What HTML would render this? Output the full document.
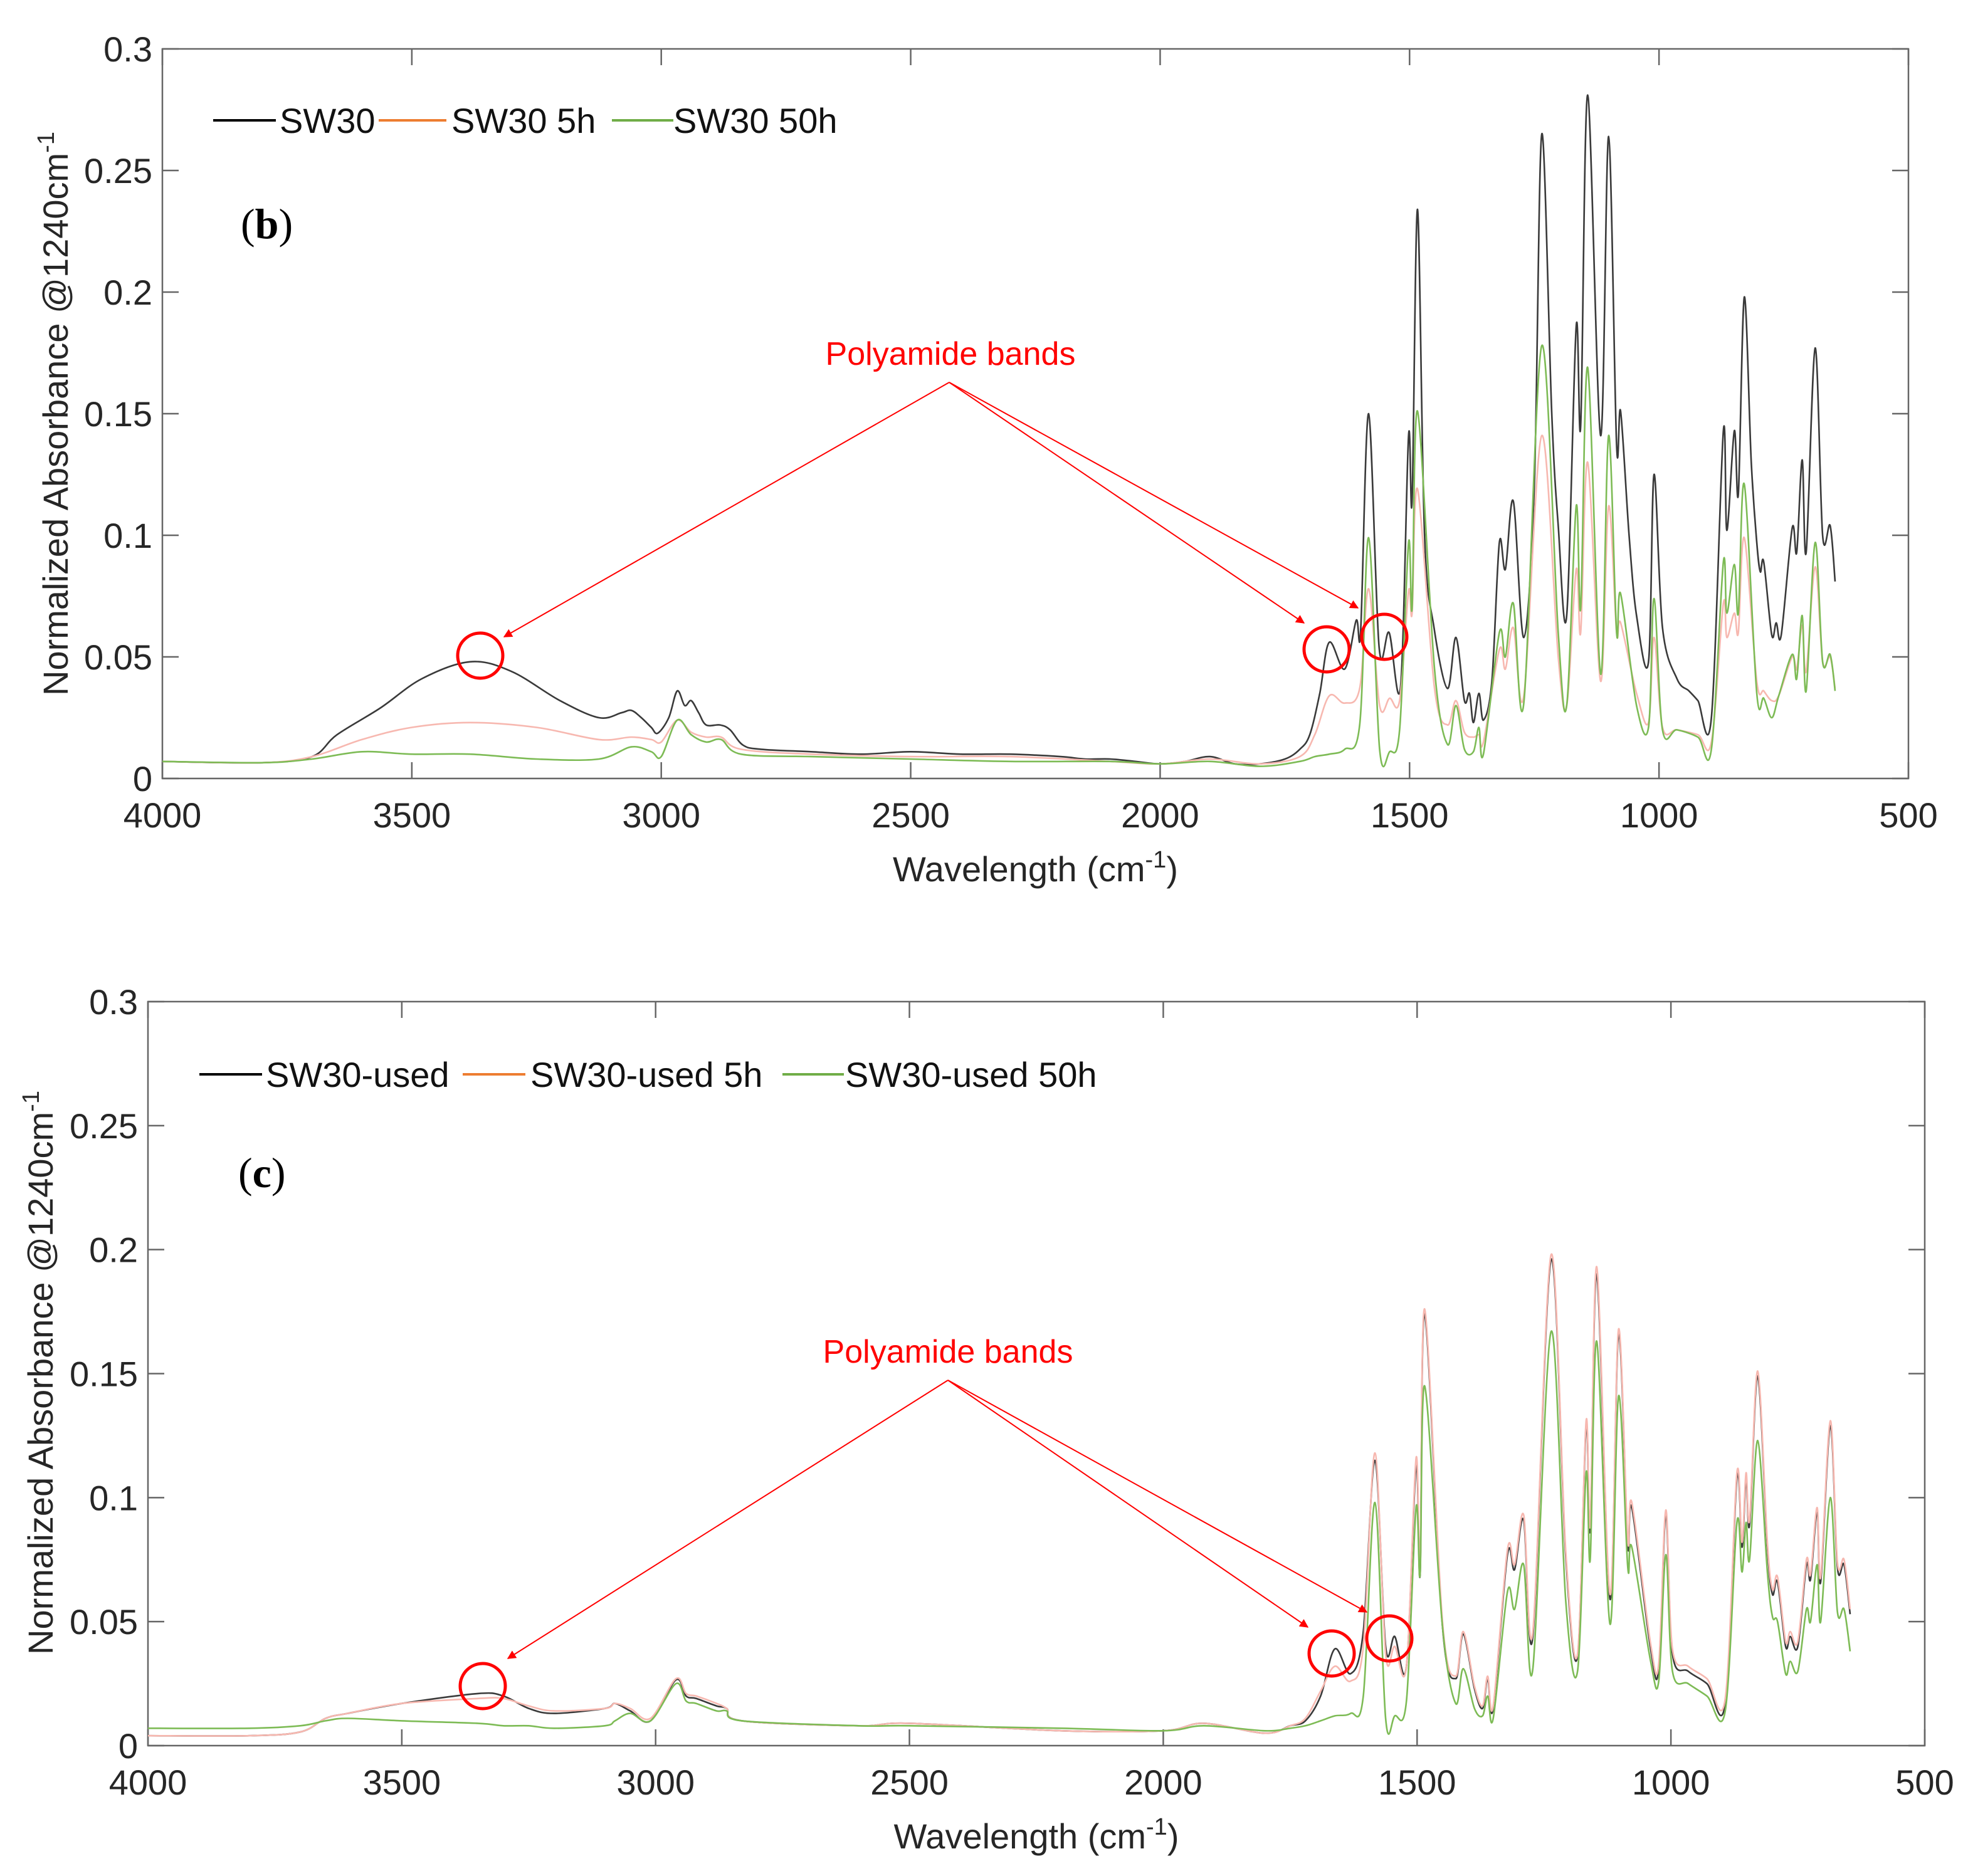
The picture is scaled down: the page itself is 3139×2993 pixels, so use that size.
<!DOCTYPE html>
<html><head><meta charset="utf-8"><style>
html,body{margin:0;padding:0;background:#fff;}
svg{display:block;font-family:"Liberation Sans",sans-serif;}
</style></head><body>
<svg id="fig" width="3139" height="2993" viewBox="0 0 3139 2993" xmlns="http://www.w3.org/2000/svg">
<defs><marker id="ah" viewBox="0 0 10 10" refX="9" refY="5" markerWidth="7" markerHeight="7" orient="auto"><path d="M0,0 L10,5 L0,10 z" fill="#f00"/></marker></defs>
</svg>
<script>
// ---- Panel (b) data ----
const wnB1 = [4000,3800,3700,3650,3563,3480,3383,3300,3203,3125,3080,3060,3040,3020,3007,2985,2968,2953,2940,2925,2910,2882,2862,2836,2800,2700,2600,2500,2400,2300,2200,2150,2100,2050,2000,1950,1900,1850,1800,1750,1720,1700,1680,1661,1630,1607,1598,1582,1561,1541,1518,1502,1495,1484,1470,1451,1424,1407,1390,1380,1372,1361,1352,1335,1320,1308,1292,1271,1250,1235,1215,1202,1185,1166,1157,1143,1117,1101,1085,1077,1060,1045,1021,1010,993,964,940,922,895,871,864,849,841,829,815,804,797,790,774,765,755,733,724,713,705,687,672,657,647];
const sw30 = [0.007,0.0065,0.009,0.018,0.029,0.041,0.048,0.044,0.032,0.025,0.027,0.028,0.025,0.021,0.0186,0.025,0.036,0.030,0.032,0.027,0.022,0.022,0.020,0.0137,0.012,0.011,0.010,0.011,0.010,0.010,0.009,0.008,0.008,0.007,0.006,0.007,0.009,0.006,0.006,0.008,0.012,0.018,0.035,0.056,0.045,0.065,0.061,0.150,0.054,0.060,0.038,0.141,0.114,0.234,0.100,0.062,0.037,0.058,0.032,0.035,0.023,0.035,0.024,0.040,0.097,0.086,0.114,0.058,0.120,0.265,0.150,0.104,0.067,0.186,0.145,0.281,0.141,0.264,0.137,0.151,0.100,0.067,0.048,0.125,0.062,0.041,0.036,0.032,0.025,0.143,0.102,0.143,0.117,0.198,0.130,0.097,0.085,0.089,0.059,0.064,0.059,0.103,0.093,0.131,0.093,0.177,0.100,0.104,0.081];
const wnB2 = [4000,3800,3700,3600,3500,3383,3250,3125,3060,3020,3000,2968,2940,2910,2880,2840,2700,2500,2300,2100,2000,1900,1800,1720,1690,1661,1630,1600,1582,1560,1540,1520,1502,1495,1484,1450,1424,1407,1390,1372,1361,1352,1320,1308,1292,1271,1235,1202,1185,1166,1157,1143,1117,1101,1085,1077,1045,1021,1010,993,964,922,895,871,864,849,841,829,804,790,774,760,733,724,713,705,687,672,657,647];
const sw30_5h = [0.007,0.0065,0.009,0.016,0.021,0.023,0.021,0.016,0.017,0.016,0.015,0.024,0.019,0.017,0.017,0.012,0.010,0.009,0.009,0.007,0.006,0.008,0.006,0.009,0.018,0.034,0.031,0.037,0.078,0.030,0.033,0.032,0.077,0.068,0.119,0.037,0.022,0.032,0.019,0.017,0.018,0.015,0.053,0.045,0.062,0.034,0.141,0.050,0.030,0.086,0.060,0.130,0.040,0.112,0.060,0.064,0.035,0.023,0.058,0.021,0.020,0.018,0.015,0.072,0.058,0.068,0.060,0.099,0.040,0.036,0.032,0.034,0.050,0.045,0.063,0.044,0.087,0.048,0.050,0.037];
const sw30_50h = [0.007,0.0065,0.008,0.011,0.010,0.010,0.008,0.008,0.013,0.011,0.009,0.024,0.018,0.015,0.016,0.010,0.009,0.008,0.007,0.007,0.006,0.007,0.005,0.007,0.009,0.010,0.012,0.022,0.099,0.012,0.011,0.020,0.097,0.070,0.151,0.045,0.014,0.030,0.012,0.011,0.021,0.010,0.060,0.050,0.072,0.031,0.178,0.060,0.030,0.112,0.070,0.169,0.043,0.141,0.060,0.076,0.030,0.021,0.074,0.020,0.020,0.017,0.012,0.089,0.068,0.088,0.068,0.121,0.035,0.033,0.025,0.034,0.051,0.041,0.067,0.036,0.097,0.048,0.051,0.036];
// ---- Panel (c) data ----
const wnC = [4000,3800,3700,3650,3607,3500,3350,3300,3250,3200,3100,3080,3050,3010,2960,2940,2920,2880,2860,2830,2600,2500,2200,2000,1920,1800,1750,1720,1690,1662,1631,1606,1583,1562,1544,1521,1502,1494,1485,1450,1424,1409,1387,1371,1361,1350,1322,1308,1290,1272,1236,1207,1184,1167,1159,1146,1120,1103,1085,1077,1040,1024,1010,997,966,929,893,870,860,852,845,829,810,800,790,774,765,750,733,725,712,705,686,672,659,647];
const used = [0.004,0.004,0.0055,0.011,0.013,0.017,0.021,0.020,0.015,0.013,0.015,0.017,0.014,0.010,0.0265,0.020,0.019,0.016,0.015,0.010,0.008,0.009,0.006,0.006,0.009,0.005,0.008,0.010,0.020,0.039,0.029,0.046,0.115,0.040,0.044,0.032,0.113,0.069,0.174,0.048,0.027,0.045,0.023,0.015,0.027,0.015,0.077,0.071,0.091,0.044,0.196,0.076,0.036,0.129,0.087,0.190,0.059,0.166,0.081,0.096,0.039,0.031,0.093,0.037,0.030,0.025,0.017,0.108,0.080,0.108,0.089,0.149,0.080,0.061,0.066,0.040,0.044,0.040,0.073,0.067,0.094,0.066,0.129,0.072,0.073,0.053];
const used_5h = [0.004,0.004,0.0055,0.011,0.013,0.017,0.019,0.019,0.016,0.014,0.015,0.017,0.015,0.011,0.027,0.021,0.020,0.017,0.015,0.010,0.008,0.009,0.006,0.006,0.009,0.005,0.008,0.011,0.022,0.032,0.026,0.040,0.118,0.037,0.040,0.032,0.116,0.072,0.176,0.050,0.028,0.046,0.024,0.016,0.028,0.016,0.079,0.073,0.093,0.046,0.198,0.078,0.037,0.131,0.089,0.193,0.061,0.168,0.083,0.098,0.041,0.033,0.095,0.039,0.032,0.027,0.019,0.110,0.082,0.110,0.091,0.151,0.082,0.063,0.068,0.042,0.046,0.042,0.075,0.069,0.096,0.068,0.131,0.074,0.075,0.055];
const used_50h = [0.007,0.007,0.008,0.010,0.011,0.010,0.009,0.008,0.008,0.007,0.008,0.010,0.013,0.010,0.025,0.018,0.017,0.014,0.014,0.010,0.008,0.008,0.007,0.006,0.008,0.006,0.007,0.008,0.010,0.012,0.013,0.020,0.098,0.011,0.012,0.018,0.096,0.069,0.145,0.048,0.017,0.031,0.015,0.012,0.020,0.011,0.062,0.055,0.073,0.031,0.167,0.058,0.030,0.110,0.075,0.163,0.049,0.141,0.072,0.080,0.034,0.026,0.077,0.030,0.025,0.020,0.014,0.090,0.070,0.090,0.075,0.123,0.070,0.052,0.050,0.029,0.034,0.030,0.055,0.050,0.073,0.050,0.100,0.054,0.055,0.038];
const xTicks = [4000,3500,3000,2500,2000,1500,1000,500];
const yTicks = [0,0.05,0.1,0.15,0.2,0.25,0.3];
const yTickLabels = ["0","0.05","0.1","0.15","0.2","0.25","0.3"];

const NS="http://www.w3.org/2000/svg";
const svg=document.getElementById('fig');
function mk(tag,attrs,parent){const e=document.createElementNS(NS,tag);for(const k in attrs)e.setAttribute(k,attrs[k]);(parent||svg).appendChild(e);return e;}
function smooth(pts){let d='M'+pts[0][0].toFixed(1)+','+pts[0][1].toFixed(1);
 for(let i=0;i<pts.length-1;i++){const p0=pts[Math.max(0,i-1)],p1=pts[i],p2=pts[i+1],p3=pts[Math.min(pts.length-1,i+2)];
 const c1x=p1[0]+(p2[0]-p0[0])/6,c1y=p1[1]+(p2[1]-p0[1])/6,c2x=p2[0]-(p3[0]-p1[0])/6,c2y=p2[1]-(p3[1]-p1[1])/6;
 d+=' C'+c1x.toFixed(1)+','+c1y.toFixed(1)+' '+c2x.toFixed(1)+','+c2y.toFixed(1)+' '+p2[0].toFixed(1)+','+p2[1].toFixed(1);}
 return d;}

function panel(cfg){
 const {L,R,T,B,id}=cfg;
 const g=mk('g',{});
 
 
 const xs=v=>L+(4000-v)/3500*(R-L);
 const ys=v=>B-v/0.3*(B-T);
 const frame=mk('rect',{x:L,y:T,width:R-L,height:B-T,fill:'none',stroke:'#666','stroke-width':2.5},g);
 
 
 xTicks.forEach(v=>{const x=xs(v);
  mk('line',{x1:x,y1:B,x2:x,y2:B-26,stroke:'#666','stroke-width':2.5},g);
  mk('line',{x1:x,y1:T,x2:x,y2:T+26,stroke:'#666','stroke-width':2.5},g);
  const t=mk('text',{x:x,y:B+78,'text-anchor':'middle','font-size':56,fill:'#262626'},g);t.textContent=v;
  
  });
 yTicks.forEach((v,i)=>{const y=ys(v);
  mk('line',{x1:L,y1:y,x2:L+26,y2:y,stroke:'#666','stroke-width':2.5},g);
  mk('line',{x1:R,y1:y,x2:R-26,y2:y,stroke:'#666','stroke-width':2.5},g);
  const t=mk('text',{x:L-16,y:y+20,'text-anchor':'end','font-size':56,fill:'#262626'},g);t.textContent=yTickLabels[i];
  
  });
 cfg.series.forEach(s=>{
  const pts=s.wn.map((w,i)=>[xs(w),ys(s.v[i])]);
  const p=mk('path',{d:smooth(pts),fill:'none',stroke:s.c,'stroke-width':s.w||2.6,'stroke-linejoin':'round'},g);
  
  });
 cfg.legend.forEach(l=>{
  const ln=mk('line',{x1:l.x1,y1:l.y,x2:l.x2,y2:l.y,stroke:l.c,'stroke-width':4},g);
  
  
  const t=mk('text',{x:l.tx,y:l.y+20,'font-size':56,fill:'#111'},g);t.textContent=l.t;
  
  });
 const pl=mk('text',{x:cfg.lx,y:cfg.ly,'font-size':68,'font-family':'Liberation Serif, serif','font-weight':'bold',fill:'#000'},g);
 pl.innerHTML='<tspan font-weight="normal">(</tspan>'+id+'<tspan font-weight="normal">)</tspan>';
 
 
 const xl=mk('text',{x:(L+R)/2,y:B+164,'text-anchor':'middle','font-size':56,fill:'#262626'},g);
 xl.innerHTML='Wavelength (cm<tspan dy="-22" font-size="38">-1</tspan><tspan dy="22">)</tspan>';
 
 
 const yl=mk('text',{x:0,y:0,'text-anchor':'middle','font-size':56,fill:'#262626',transform:'translate('+cfg.ylx+','+cfg.yly+') rotate(-90)'},g);
 yl.innerHTML='Normalized Absorbance @1240cm<tspan dy="-22" font-size="38">-1</tspan>';
 
 
 const at=mk('text',{x:cfg.ann.tx,y:cfg.ann.ty,'text-anchor':'middle','font-size':52,fill:'#f00','font-family':'Liberation Sans, sans-serif'},g);
 at.textContent='Polyamide bands';
 
 
 cfg.ann.tips.forEach(tp=>{const a=mk('line',{x1:cfg.ann.ox,y1:cfg.ann.oy,x2:tp[0],y2:tp[1],stroke:'#f00','stroke-width':2,'marker-end':'url(#ah)'},g);
  
  });
 cfg.ann.circles.forEach(cc=>{const c=mk('circle',{cx:cc[0],cy:cc[1],r:36,fill:'none',stroke:'#f00','stroke-width':5},g);
  
  });
}
const PINK='#f7b8b0', GREEN='#7dbb55', BLACK='#3a3a3a';
panel({id:'b',L:259,R:3044,T:78,B:1242,lx:384,ly:380,ylx:108,yly:660,
 series:[{name:'sw30-line',wn:wnB1,v:sw30,c:BLACK},{name:'sw30-5h-line',wn:wnB2,v:sw30_5h,c:PINK},{name:'sw30-50h-line',wn:wnB2,v:sw30_50h,c:GREEN}],
 legend:[{x1:340,x2:440,y:192,c:'#000',tx:446,t:'SW30'},{x1:604,x2:712,y:192,c:'#ed7d31',tx:720,t:'SW30 5h'},{x1:976,x2:1074,y:192,c:'#70ad47',tx:1074,t:'SW30 50h'}],
 ann:{tx:1516,ty:582,ox:1514,oy:610,tips:[[804,1016],[2080,994],[2166,970]],circles:[[766,1046],[2116,1036],[2208,1016]]}});
panel({id:'c',L:236,R:3070,T:1598,B:2785,lx:380,ly:1894,ylx:84,yly:2190,
 series:[{name:'sw30-used-line',wn:wnC,v:used,c:BLACK},{name:'sw30-used-5h-line',wn:wnC,v:used_5h,c:PINK},{name:'sw30-used-50h-line',wn:wnC,v:used_50h,c:GREEN}],
 legend:[{x1:318,x2:418,y:1714,c:'#000',tx:424,t:'SW30-used'},{x1:738,x2:838,y:1714,c:'#ed7d31',tx:846,t:'SW30-used 5h'},{x1:1248,x2:1346,y:1714,c:'#70ad47',tx:1348,t:'SW30-used 50h'}],
 ann:{tx:1512,ty:2174,ox:1512,oy:2202,tips:[[810,2646],[2086,2596],[2180,2572]],circles:[[770,2690],[2124,2638],[2216,2614]]}});
</script>
</body></html>
